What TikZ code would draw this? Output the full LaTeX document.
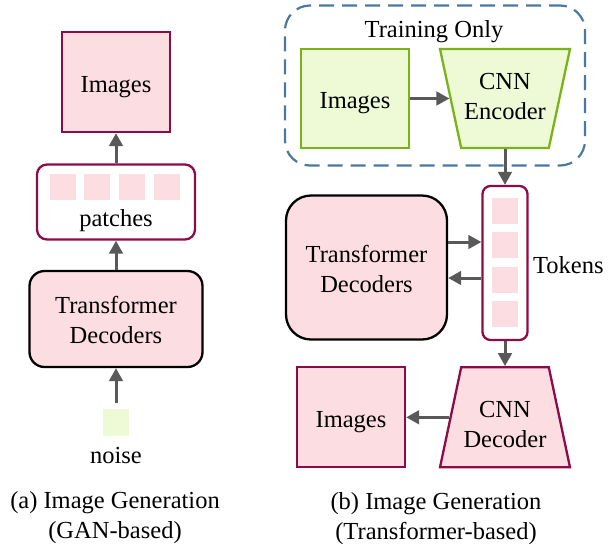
\documentclass[tikz,border=0pt]{standalone}
\usepackage{fontspec}
\setmainfont{Liberation Serif}
\usetikzlibrary{shapes.geometric,arrows.meta}
\definecolor{maroon}{RGB}{140,12,72}
\definecolor{pinkf}{RGB}{252,221,226}
\definecolor{greens}{RGB}{122,178,26}
\definecolor{greenf}{RGB}{238,249,214}
\definecolor{dashblue}{RGB}{75,120,160}
\definecolor{arrgray}{RGB}{89,89,89}
\begin{document}
\begin{tikzpicture}[x=1pt,y=-1pt,
 txt/.style={font=\fontsize{24.5}{30}\selectfont, align=center, inner sep=0pt},
 btxt/.style={txt, anchor=base},
 pinkbox/.style={draw=maroon, fill=pinkf, line width=2.3pt, inner sep=0pt},
 greenbox/.style={draw=greens, fill=greenf, line width=2.3pt, inner sep=0pt},
 tdbox/.style={draw=black, fill=pinkf, line width=2.3pt, rounded corners=15pt, inner sep=0pt},
 arr/.style={draw=arrgray, line width=3pt, -{Triangle[length=13pt,width=13.5pt]}},
 cell/.style={fill=pinkf, minimum width=26pt, minimum height=26pt, inner sep=0pt},
 trap/.style={trapezium, trapezium stretches=true, inner sep=3pt, minimum width=130pt, trapezium angle=76.4},
]
\useasboundingbox (0,0) rectangle (615,550);
% ---- left panel
\node[pinkbox, minimum width=108pt, minimum height=100pt] (imgL) at (116,82) {};
\node[btxt] (imgLt) at (116,92) {Images};
\node[draw=maroon, fill=white, line width=2.3pt, rounded corners=10pt, minimum width=158pt, minimum height=75pt] (patch) at (116,202) {};
\node[cell] (p1) at (63,187) {};
\node[cell] (p2) at (97,187) {};
\node[cell] (p3) at (132,187) {};
\node[cell] (p4) at (167,187) {};
\node[btxt] (plab) at (116,226) {patches};
\node[tdbox, txt, minimum width=173pt, minimum height=96pt] (tdL) at (116,319) {};
\node[txt] (tdLt) at (116,320) {Transformer\\Decoders};
\node[fill=greenf, minimum width=26pt, minimum height=27pt, inner sep=0pt] (noise) at (116,422) {};
\node[btxt] (nlab) at (116,463) {noise};
\node[txt] (capA) at (115,518) {(a) Image Generation\\(GAN-based)};
\draw[arr] (patch.north) -- (imgL.south);
\draw[arr] (tdL.north) -- (patch.south);
\draw[arr, shorten <=5pt] (noise.north) -- (tdL.south);
% ---- right panel
\node[draw=dashblue, line width=2.2pt, dash pattern=on 15pt off 8pt, dash phase=4pt, rounded corners=25pt, minimum width=300pt, minimum height=160pt] (train) at (435,85.5) {};
\node[btxt] (trlab) at (434,37) {Training Only};
\node[greenbox, minimum width=108pt, minimum height=99pt] (imgG) at (355,98.5) {};
\node[btxt] (imgGt) at (355,108) {Images};
\node[greenbox, trap, shape border rotate=180, minimum height=99pt] (enc) at (505,98.5) {};
\node[txt] (encL) at (505,97) {CNN\\Encoder};
\node[draw=maroon, fill=white, line width=2.3pt, rounded corners=8pt, minimum width=45pt, minimum height=154pt] (tok) at (505,263) {};
\node[cell] (t1) at (505,211.3) {};
\node[cell] (t2) at (505,245.3) {};
\node[cell] (t3) at (505,280.3) {};
\node[cell] (t4) at (505,314) {};
\node[btxt, anchor=base west] (toklab) at (533,273) {Tokens};
\node[tdbox, rounded corners=25pt, minimum width=161pt, minimum height=144pt] (tdR) at (366.5,267.5) {};
\node[txt] (tdRt) at (366.5,269) {Transformer\\Decoders};
\coordinate (r1) at (0,242);
\coordinate (r2) at (0,278);
\node[pinkbox, trap, minimum height=100pt] (dec) at (505,417.3) {};
\node[txt] (decL) at (505,424) {CNN\\Decoder};
\node[pinkbox, minimum width=108pt, minimum height=100pt] (imgR) at (351,417.3) {};
\node[btxt] (imgRt) at (351,427) {Images};
\node[txt] (capB) at (436,519) {(b) Image Generation\\(Transformer-based)};
\draw[arr] (imgG.east) -- (enc.west);
\draw[arr] (enc.south) -- (tok.north);
\draw[arr] (tdR.east |- r1) -- (tok.west |- r1);
\draw[arr] (tok.west |- r2) -- (tdR.east |- r2);
\draw[arr] (tok.south) -- (dec.north);
\draw[arr] (dec.west) -- (imgR.east);
\end{tikzpicture}
\end{document}
